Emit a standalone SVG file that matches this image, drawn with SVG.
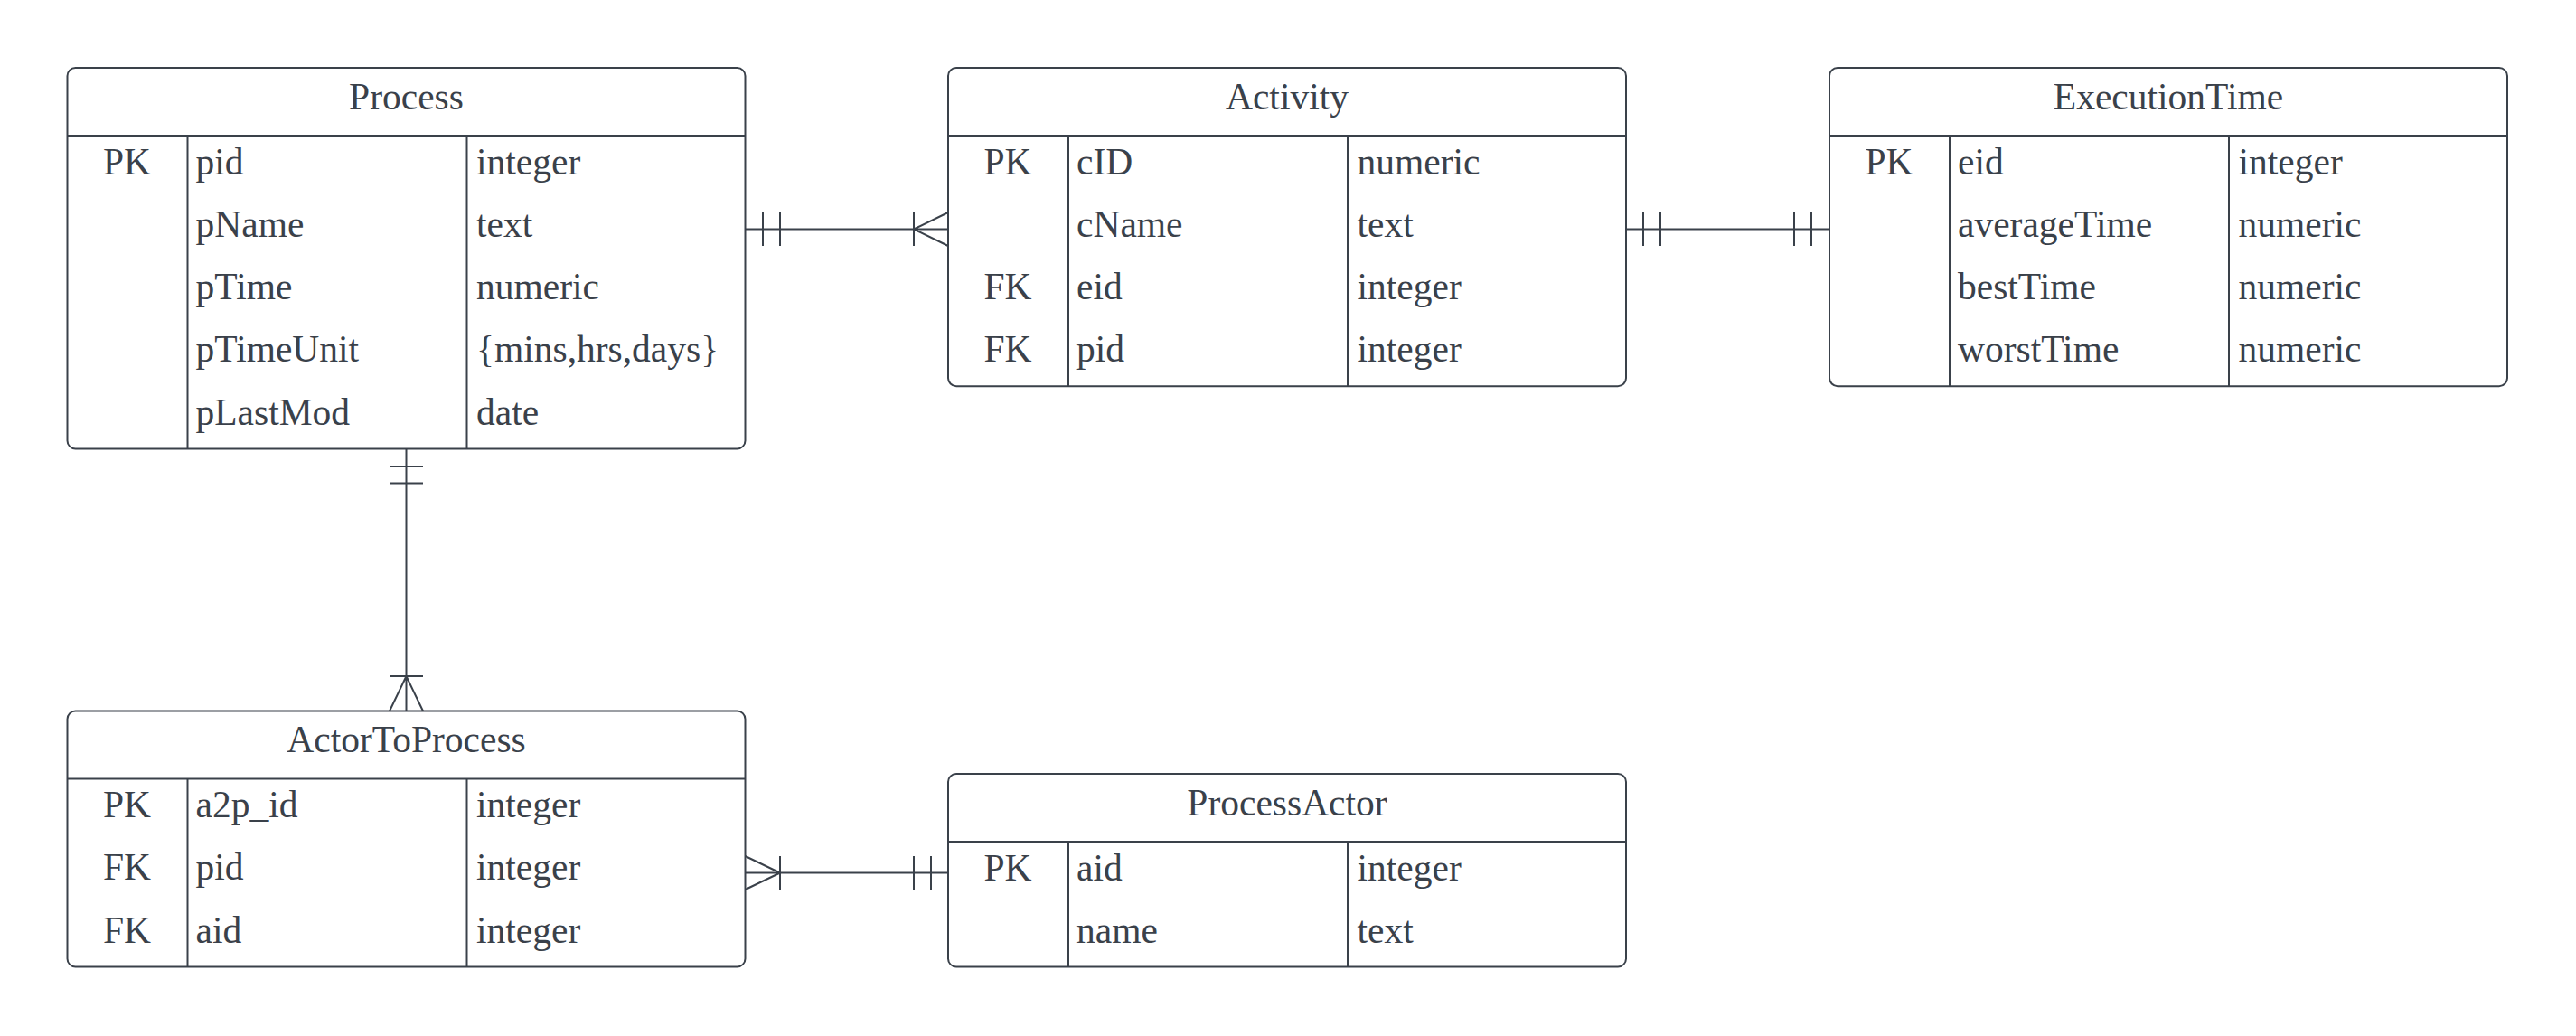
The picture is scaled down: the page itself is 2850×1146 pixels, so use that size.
<svg xmlns="http://www.w3.org/2000/svg" width="2850" height="1146" viewBox="0 0 2850 1146">
<style>
.box{fill:#ffffff;stroke:#3a414a;stroke-width:2}
.ln{stroke:#3a414a;stroke-width:2;fill:none}
.t{font-family:"Liberation Serif","Times New Roman",serif;font-size:41.5px;fill:#3a414a}
.c{text-anchor:middle}
</style>
<rect width="2850" height="1146" fill="#ffffff"/>
<g id="Process">
<rect class="box" x="74.5" y="75" width="750" height="421.5" rx="9"/>
<line class="ln" x1="74.5" y1="150" x2="824.5" y2="150"/>
<line class="ln" x1="207.5" y1="150" x2="207.5" y2="496.5"/>
<line class="ln" x1="516.5" y1="150" x2="516.5" y2="496.5"/>
<text class="t c" x="449.5" y="120.5">Process</text>
<text class="t c" x="140.5" y="192.5">PK</text>
<text class="t" x="216.5" y="192.5">pid</text><text class="t" x="527" y="192.5">integer</text>
<text class="t" x="216.5" y="261.8">pName</text><text class="t" x="527" y="261.8">text</text>
<text class="t" x="216.5" y="331.1">pTime</text><text class="t" x="527" y="331.1">numeric</text>
<text class="t" x="216.5" y="400.4">pTimeUnit</text><text class="t" x="527" y="400.4">{mins,hrs,days}</text>
<text class="t" x="216.5" y="469.7">pLastMod</text><text class="t" x="527" y="469.7">date</text>
</g>
<g id="Activity">
<rect class="box" x="1049" y="75" width="750" height="352.2" rx="9"/>
<line class="ln" x1="1049" y1="150" x2="1799" y2="150"/>
<line class="ln" x1="1182" y1="150" x2="1182" y2="427.2"/>
<line class="ln" x1="1491" y1="150" x2="1491" y2="427.2"/>
<text class="t c" x="1424" y="120.5">Activity</text>
<text class="t c" x="1115" y="192.5">PK</text>
<text class="t" x="1191" y="192.5">cID</text><text class="t" x="1501.5" y="192.5">numeric</text>
<text class="t" x="1191" y="261.8">cName</text><text class="t" x="1501.5" y="261.8">text</text>
<text class="t c" x="1115" y="331.1">FK</text>
<text class="t" x="1191" y="331.1">eid</text><text class="t" x="1501.5" y="331.1">integer</text>
<text class="t c" x="1115" y="400.4">FK</text>
<text class="t" x="1191" y="400.4">pid</text><text class="t" x="1501.5" y="400.4">integer</text>
</g>
<g id="ExecutionTime">
<rect class="box" x="2024" y="75" width="750" height="352.2" rx="9"/>
<line class="ln" x1="2024" y1="150" x2="2774" y2="150"/>
<line class="ln" x1="2157" y1="150" x2="2157" y2="427.2"/>
<line class="ln" x1="2466" y1="150" x2="2466" y2="427.2"/>
<text class="t c" x="2399" y="120.5">ExecutionTime</text>
<text class="t c" x="2090" y="192.5">PK</text>
<text class="t" x="2166" y="192.5">eid</text><text class="t" x="2476.5" y="192.5">integer</text>
<text class="t" x="2166" y="261.8">averageTime</text><text class="t" x="2476.5" y="261.8">numeric</text>
<text class="t" x="2166" y="331.1">bestTime</text><text class="t" x="2476.5" y="331.1">numeric</text>
<text class="t" x="2166" y="400.4">worstTime</text><text class="t" x="2476.5" y="400.4">numeric</text>
</g>
<g id="ActorToProcess">
<rect class="box" x="74.5" y="786.5" width="750" height="283" rx="9"/>
<line class="ln" x1="74.5" y1="861.5" x2="824.5" y2="861.5"/>
<line class="ln" x1="207.5" y1="861.5" x2="207.5" y2="1069.5"/>
<line class="ln" x1="516.5" y1="861.5" x2="516.5" y2="1069.5"/>
<text class="t c" x="449.5" y="832">ActorToProcess</text>
<text class="t c" x="140.5" y="904">PK</text>
<text class="t" x="216.5" y="904">a2p_id</text><text class="t" x="527" y="904">integer</text>
<text class="t c" x="140.5" y="973.3">FK</text>
<text class="t" x="216.5" y="973.3">pid</text><text class="t" x="527" y="973.3">integer</text>
<text class="t c" x="140.5" y="1042.6">FK</text>
<text class="t" x="216.5" y="1042.6">aid</text><text class="t" x="527" y="1042.6">integer</text>
</g>
<g id="ProcessActor">
<rect class="box" x="1049" y="856" width="750" height="213.5" rx="9"/>
<line class="ln" x1="1049" y1="931" x2="1799" y2="931"/>
<line class="ln" x1="1182" y1="931" x2="1182" y2="1069.5"/>
<line class="ln" x1="1491" y1="931" x2="1491" y2="1069.5"/>
<text class="t c" x="1424" y="901.5">ProcessActor</text>
<text class="t c" x="1115" y="973.5">PK</text>
<text class="t" x="1191" y="973.5">aid</text><text class="t" x="1501.5" y="973.5">integer</text>
<text class="t" x="1191" y="1042.8">name</text><text class="t" x="1501.5" y="1042.8">text</text>
</g>
<g id="connectors">
<path class="ln" d="M824.5 253.5 H1049 M844 235 V272 M863 235 V272 M1011 235 V272 M1011 253.5 L1049 235 M1011 253.5 L1049 272"/>
<path class="ln" d="M1799 253.5 H2024 M1818 235 V272 M1837 235 V272 M1985 235 V272 M2004 235 V272"/>
<path class="ln" d="M449.5 496.5 V786.5 M431 516 H468 M431 534.5 H468 M431 748 H468 M449.5 748 L431 786.5 M449.5 748 L468 786.5"/>
<path class="ln" d="M824.5 965.5 H1049 M863 947 V984 M863 965.5 L824.5 947 M863 965.5 L824.5 984 M1011 947 V984 M1030 947 V984"/>
</g>
</svg>
